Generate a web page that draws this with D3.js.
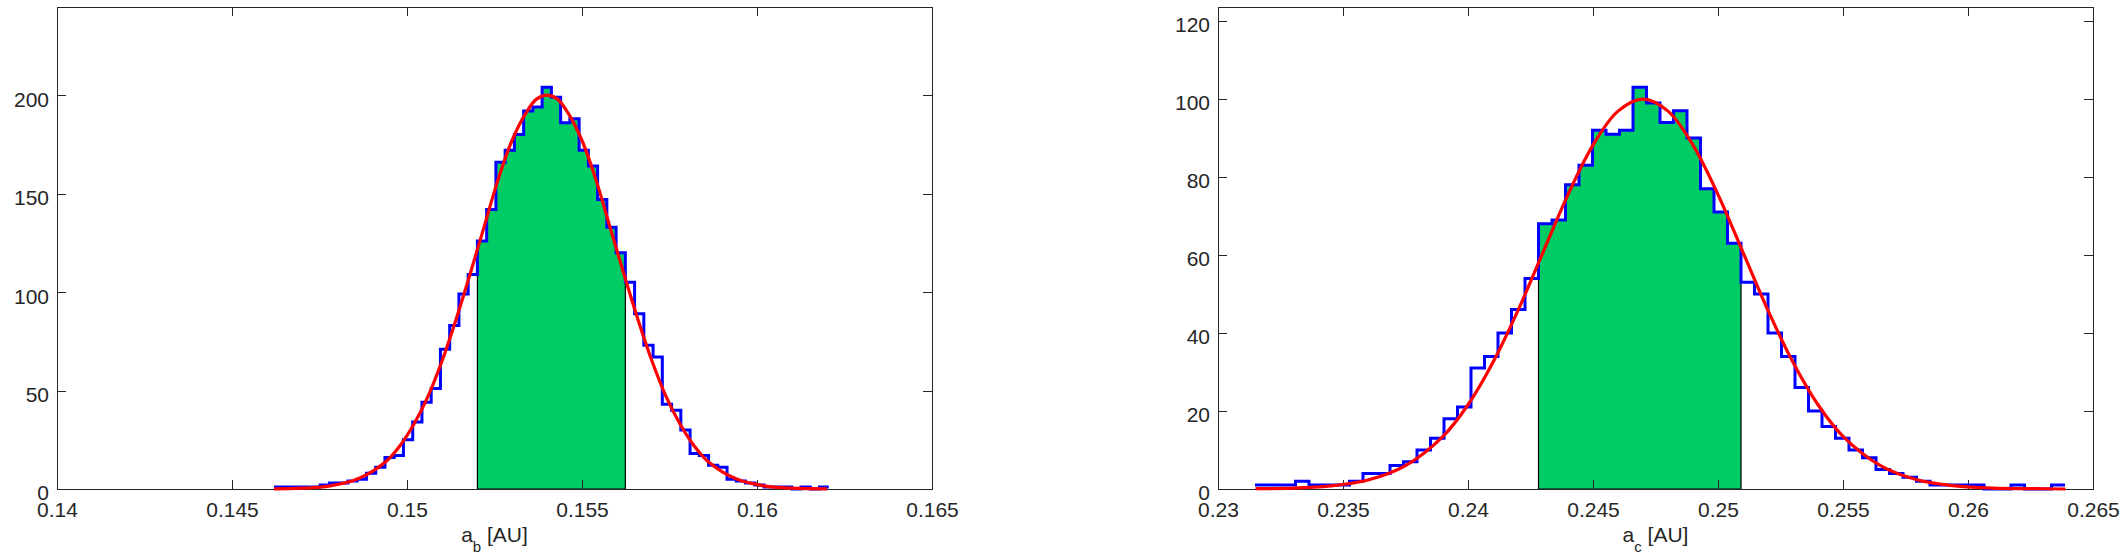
<!DOCTYPE html>
<meta charset="utf-8">
<style>
body{
	margin:0;
	background:#fff;
}
text{
	font-family:"Liberation Sans",Arial,sans-serif;
	font-size:21px;
	fill:#262626;
}
.axis line{
	stroke:#262626;
	shape-rendering:crispEdges;
}
.axis .domain{
	display:none;
}
.frame{
	fill:none;
	stroke:#262626;
	stroke-width:1px;
	shape-rendering:crispEdges;
}
.shade{
	fill:#00cc66;
	stroke:#000;
	stroke-width:1.2px;
}
.hist{
	fill:none;
	stroke:#0000ff;
	stroke-width:3px;
}
.fit{
	fill:none;
	stroke:#ff0000;
	stroke-width:3.2px;
	stroke-linejoin:round;
}
</style>
<body>
<script src="https://cdn.jsdelivr.net/npm/d3@7"></script>
<script>

// a_b : 60 bins between the sample min and max
var countsB=[1,1,1,1,1,2,3,3,4,5,
	8,11,16,17,25,34,44,51,71,83,
	99,109,126,142,166,172,180,192,194,204,
	199,186,188,172,164,147,133,120,105,89,
	73,67,43,40,30,18,17,12,11,5,
	4,3,2,1,1,1,0,1,0,1];
var rangeB=[0.1462,0.16205];
var shadeB=[0.1520,0.1563];
var fitXB=[0.1462,0.1470,0.1478,0.1486,0.1494,0.1498,0.1502,0.1506,0.1510,0.1514,
	0.1518,0.1522,0.1526,0.1530,0.1534,0.1537,0.1540,0.1543,0.1546,0.1550,
	0.1554,0.1558,0.1562,0.1566,0.1570,0.1574,0.1578,0.1582,0.1586,0.1594,
	0.1602,0.1610,0.1620];
var fitYB=[0.1,0.4,1.6,5.2,14,22,33,47,65,86,
	109,133,157,177,191,198,200,198,191,177,
	157,133,109,86,65,47,33,22,14,5.2,
	1.6,0.4,0.1];
var xTicksB=[0.14,0.145,0.15,0.155,0.16,0.165];
var yTicksB=[0,50,100,150,200];

// a_c
var countsC=[1,1,1,2,1,1,1,2,4,4,
	6,7,10,13,18,21,31,34,40,46,
	54,68,69,78,83,92,91,92,103,99,
	94,97,90,77,71,63,53,50,40,34,
	26,20,16,13,10,8,5,4,3,2,
	1,1,1,1,0,0,1,0,0,1];
var rangeC=[0.23148,0.26388];
var shadeC=[0.2428,0.2509];
var fitXC=[0.2315,0.2330,0.2345,0.2360,0.2375,0.2390,0.2400,0.2410,0.2420,0.2430,
	0.2440,0.2450,0.2460,0.2470,0.2480,0.2490,0.2500,0.2510,0.2520,0.2530,
	0.2540,0.2550,0.2565,0.2580,0.2595,0.2610,0.2625,0.2639];
var fitYC=[0.1,0.2,0.8,2.3,6.0,13.5,21.6,32.5,45.8,60.7,
	75.5,88.2,96.9,100,96.9,88.2,75.5,60.7,45.8,32.5,
	21.6,13.5,6.0,2.3,0.8,0.2,0.1,0];
var xTicksC=[0.23,0.235,0.24,0.245,0.25,0.255,0.26,0.265];
var yTicksC=[0,20,40,60,80,100,120];

var W=875, H=482;
var svg=d3.select("body").append("svg").attr("width",2125).attr("height",560);

var panels=[
	{left:57, counts:countsB, range:rangeB, shade:shadeB, fx:fitXB, fy:fitYB,
	 xt:xTicksB, yt:yTicksB, xdom:[0.14,0.165], ymax:244.8, sub:"b"},
	{left:1218, counts:countsC, range:rangeC, shade:shadeC, fx:fitXC, fy:fitYC,
	 xt:xTicksC, yt:yTicksC, xdom:[0.23,0.265], ymax:123.6, sub:"c"}
];

panels.forEach(function(p){
	var g=svg.append("g").attr("transform","translate("+p.left+",7)");
	var x=d3.scaleLinear().domain(p.xdom).range([0,W]);
	var y=d3.scaleLinear().domain([0,p.ymax]).range([H,0]);
	var n=p.counts.length;
	var bin=d3.scaleLinear().domain([0,n]).range(p.range);

	// shaded bins (between the two bounds)
	var sel=p.counts.map(function(c,i){ return {x0:bin(i),x1:bin(i+1),c:c}; })
		.filter(function(d){ var m=(d.x0+d.x1)/2; return m>p.shade[0]&&m<p.shade[1]; });
	var poly=[[sel[0].x0,0]];
	sel.forEach(function(d){ poly.push([d.x0,d.c]); poly.push([d.x1,d.c]); });
	poly.push([sel[sel.length-1].x1,0]);
	g.append("path").attr("class","shade")
		.attr("d",d3.line().x(d=>x(d[0])).y(d=>y(d[1]))(poly)+"Z");

	// axes, ticks pointing inward on all four sides
	g.append("g").attr("class","axis").attr("transform","translate(0,"+H+")")
		.call(d3.axisBottom(x).tickValues(p.xt).tickFormat(d3.format("")).tickSizeInner(-9).tickSizeOuter(0).tickPadding(13));
	g.append("g").attr("class","axis")
		.call(d3.axisTop(x).tickValues(p.xt).tickFormat("").tickSizeInner(-9).tickSizeOuter(0));
	var ya=g.append("g").attr("class","axis")
		.call(d3.axisLeft(y).tickValues(p.yt).tickSizeInner(-9).tickSizeOuter(0).tickPadding(8));
	ya.selectAll("text").attr("dy","0.52em");
	g.append("g").attr("class","axis").attr("transform","translate("+W+",0)")
		.call(d3.axisRight(y).tickValues(p.yt).tickFormat("").tickSizeInner(-9).tickSizeOuter(0));
	g.selectAll(".axis").attr("font-family",null).attr("font-size",null);
	g.append("rect").attr("class","frame").attr("width",W).attr("height",H);

	// histogram outline as stairs
	var st=p.counts.map(function(c,i){ return [bin(i),c]; });
	st.push([bin(n),p.counts[n-1]]);
	g.append("path").attr("class","hist")
		.attr("d",d3.line().curve(d3.curveStepAfter).x(d=>x(d[0])).y(d=>y(d[1]))(st));

	// fitted curve
	var fp=p.fx.map(function(v,i){ return [v,p.fy[i]]; });
	g.append("path").attr("class","fit")
		.attr("d",d3.line().curve(d3.curveCatmullRom).x(d=>x(d[0])).y(d=>y(d[1]))(fp));

	var lab=g.append("text").attr("x",W/2).attr("y",535).attr("text-anchor","middle");
	lab.append("tspan").text("a");
	lab.append("tspan").attr("dy",10).style("font-size","15px").text(p.sub);
	lab.append("tspan").attr("dy",-10).text(" [AU]");
});

</script>
</body>
</html>
